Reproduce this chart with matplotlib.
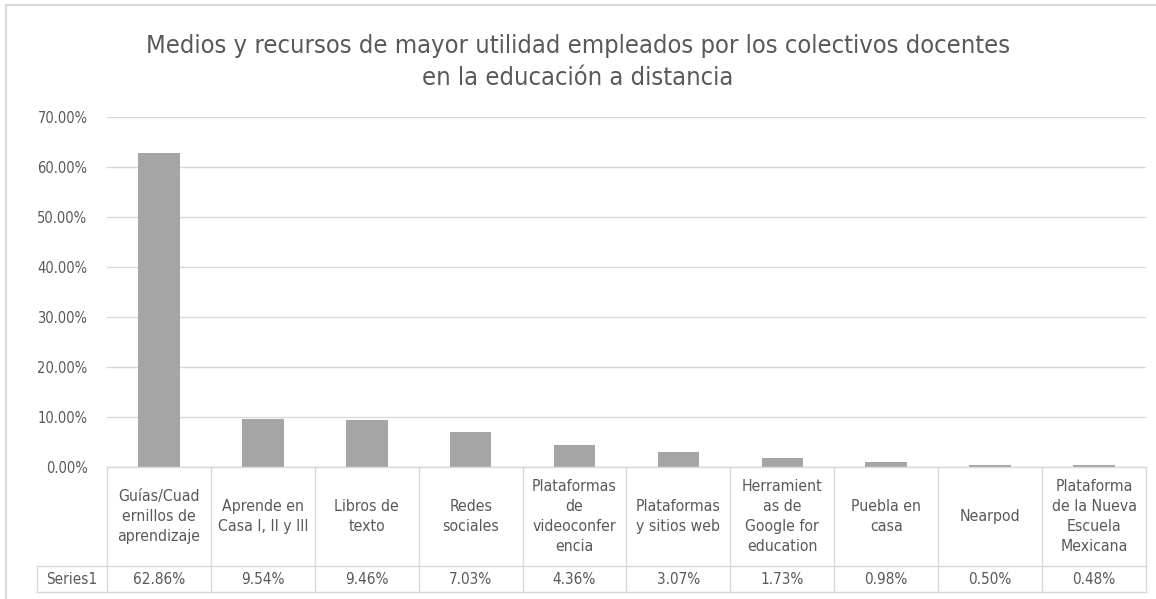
import matplotlib.pyplot as plt
import matplotlib.ticker as mticker
from matplotlib.transforms import blended_transform_factory
from matplotlib.lines import Line2D

# Data
categories = [
    "Guías/Cuad\nernillos de\naprendizaje",
    "Aprende en\nCasa I, II y III",
    "Libros de\ntexto",
    "Redes\nsociales",
    "Plataformas\nde\nvideoconfer\nencia",
    "Plataformas\ny sitios web",
    "Herramient\nas de\nGoogle for\neducation",
    "Puebla en\ncasa",
    "Nearpod",
    "Plataforma\nde la Nueva\nEscuela\nMexicana",
]
values = [62.86, 9.54, 9.46, 7.03, 4.36, 3.07, 1.73, 0.98, 0.50, 0.48]
series_name = "Series1"
title = "Medios y recursos de mayor utilidad empleados por los colectivos docentes\nen la educación a distancia"

plt.rcParams['font.family'] = ['DejaVu Sans']
plt.rcParams['font.stretch'] = 'condensed'

W, H = 1156, 599
text_col = '#595959'
line_col = '#D9D9D9'
bar_col = '#A5A5A5'

fig = plt.figure(figsize=(W / 100, H / 100), dpi=100)

def fx(px):
    return px / W

def fy(py):
    return 1 - py / H

# plot area (pixel positions measured on the reference)
left, right, top, bottom = 107, 1146, 117, 467
ax = fig.add_axes([fx(left), fy(bottom), fx(right) - fx(left), fy(top) - fy(bottom)])

n = len(values)
ax.bar(range(n), values, width=0.4, color=bar_col, zorder=3)
ax.set_xlim(-0.5, n - 0.5)
ax.set_ylim(0, 70)
ax.yaxis.set_major_locator(mticker.MultipleLocator(10))
ax.yaxis.set_major_formatter(mticker.FuncFormatter(lambda v, p: f"{v:.2f}%"))
ax.grid(axis='y', color=line_col, linewidth=1, zorder=0)
ax.tick_params(axis='y', length=0, pad=14, labelsize=10.5, labelcolor=text_col)
ax.set_xticks([])
for s in ax.spines.values():
    s.set_visible(False)

fig.text(0.5, fy(62), title, ha='center', va='center', fontsize=18.3,
         color=text_col, linespacing=1.45)

# data table under the axis
tr = blended_transform_factory(ax.transData, fig.transFigure)
row_top, row_mid, row_bot = 467, 566, 592
label_left = 37

for y in [row_top, row_mid, row_bot]:
    x0 = left if y == row_top else label_left
    fig.add_artist(Line2D([fx(x0), fx(right)], [fy(y), fy(y)], color=line_col, lw=1))
for i in range(n + 1):
    fig.add_artist(Line2D([ax.transData.transform((i - 0.5, 0))[0] / W] * 2,
                          [fy(row_top), fy(row_bot)], color=line_col, lw=1))
fig.add_artist(Line2D([fx(label_left)] * 2, [fy(row_mid), fy(row_bot)], color=line_col, lw=1))

for i, (cat, v) in enumerate(zip(categories, values)):
    ax.text(i, fy((row_top + row_mid) / 2), cat, transform=tr, ha='center', va='center',
            fontsize=11.3, color=text_col, linespacing=1.42, multialignment='center')
    ax.text(i, fy((row_mid + row_bot) / 2), f"{v:.2f}%", transform=tr, ha='center',
            va='center', fontsize=11, color=text_col)
fig.text(fx((label_left + left) / 2), fy((row_mid + row_bot) / 2), series_name,
         ha='center', va='center', fontsize=11, color=text_col)

# chart frame (left and top edges visible)
fig.add_artist(Line2D([fx(6), fx(6)], [fy(5), 0], color=line_col, lw=1.5))
fig.add_artist(Line2D([fx(6), 1], [fy(5), fy(5)], color=line_col, lw=1.5))

fig.savefig('out.png', dpi=100)
